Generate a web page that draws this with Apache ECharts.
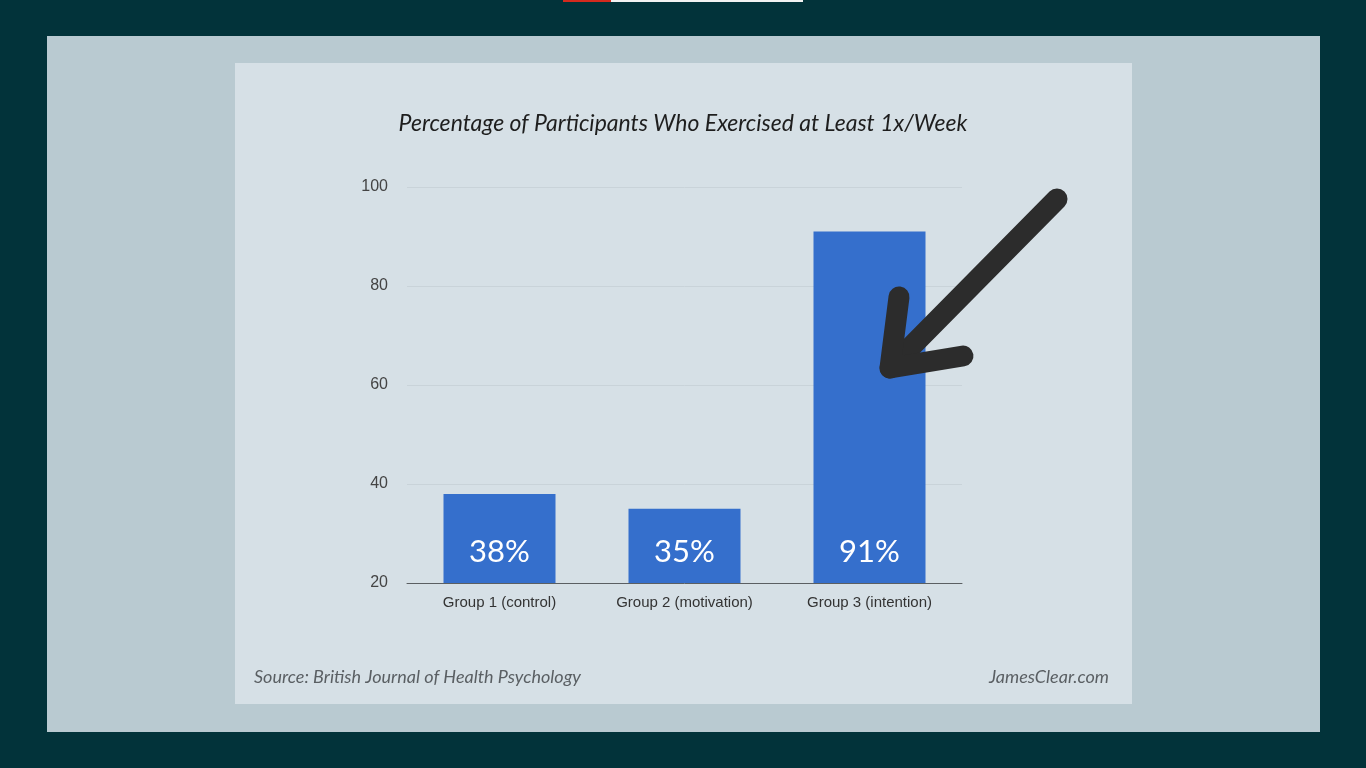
<!DOCTYPE html>
<html><head><meta charset="utf-8">
<style>html,body{margin:0;padding:0;background:#02333a;}#c{width:1366px;height:768px;}</style>
<script src="https://cdn.jsdelivr.net/npm/echarts@6/dist/echarts.min.js"></script>
</head><body><div id="c"></div>
<script>
const categories = ['Group 1 (control)', 'Group 2 (motivation)', 'Group 3 (intention)'];
const values = [38, 35, 91];
const yTicks = [20, 40, 60, 80, 100];
const titleText = 'Percentage of Participants Who Exercised at Least 1x/Week';
const sourceText = 'Source: British Journal of Health Psychology';
const brandText = 'JamesClear.com';

const chart = echarts.init(document.getElementById('c'));
chart.setOption({
  backgroundColor: '#02333a',
  animation: false,
  graphic: [
    {type:'rect', z:-10, silent:true, shape:{x:47,y:36,width:1273,height:696}, style:{fill:'#b9cad1'}},
    {type:'rect', z:-9, silent:true, shape:{x:235,y:63,width:897,height:641}, style:{fill:'#d6e0e6'}},
    {type:'rect', z:-8, silent:true, shape:{x:563,y:0,width:48,height:2}, style:{fill:'#d42a1e'}},
    {type:'rect', z:-8, silent:true, shape:{x:611,y:0,width:192,height:2}, style:{fill:'#f2f2f2'}},
    {type:'text', left:'center', top:112, style:{text:titleText, font:'italic 23px Lato, "Open Sans", sans-serif', fill:'#1e1e1e'}},
    {type:'text', left:254, top:668, style:{text:sourceText, font:'italic 18px Lato, "Open Sans", sans-serif', fill:'#5a5f63'}},
    {type:'text', right:1366-1109, top:668, style:{text:brandText, font:'italic 18px Lato, "Open Sans", sans-serif', fill:'#5a5f63'}},
    {type:'polyline', z:100, silent:true, shape:{points:[[1057,199],[890,368]]}, style:{stroke:'#2c2c2c', lineWidth:21, lineCap:'round', fill:null}},
    {type:'polyline', z:100, silent:true, shape:{points:[[899,297],[890,368],[963,356]]}, style:{stroke:'#2c2c2c', lineWidth:21, lineCap:'round', lineJoin:'round', fill:null}}
  ],
  grid: {left:407, right:404, top:187, bottom:185, containLabel:false},
  xAxis: {
    type:'category', data:categories,
    axisLine:{show:true, lineStyle:{color:'#5b5f62', width:1}},
    axisTick:{show:false},
    axisLabel:{color:'#333', fontSize:15, fontFamily:'Liberation Sans, Arial, sans-serif', margin:12}
  },
  yAxis: {
    type:'value', min:yTicks[0], max:yTicks[yTicks.length-1], interval:20,
    axisLine:{show:false}, axisTick:{show:false},
    axisLabel:{color:'#444', fontSize:16, fontFamily:'Liberation Sans, Arial, sans-serif', margin:19},
    splitLine:{lineStyle:{color:'#c9d3d9', width:1}}
  },
  series: [{
    type:'bar', data:values, barWidth:112,
    itemStyle:{color:'#356fcc'},
    label:{show:true, position:'insideBottom', distance:16, color:'#ffffff', fontSize:31,
      fontFamily:'Lato, "Open Sans", sans-serif', formatter:'{c}%'}
  }]
});
</script></body></html>
